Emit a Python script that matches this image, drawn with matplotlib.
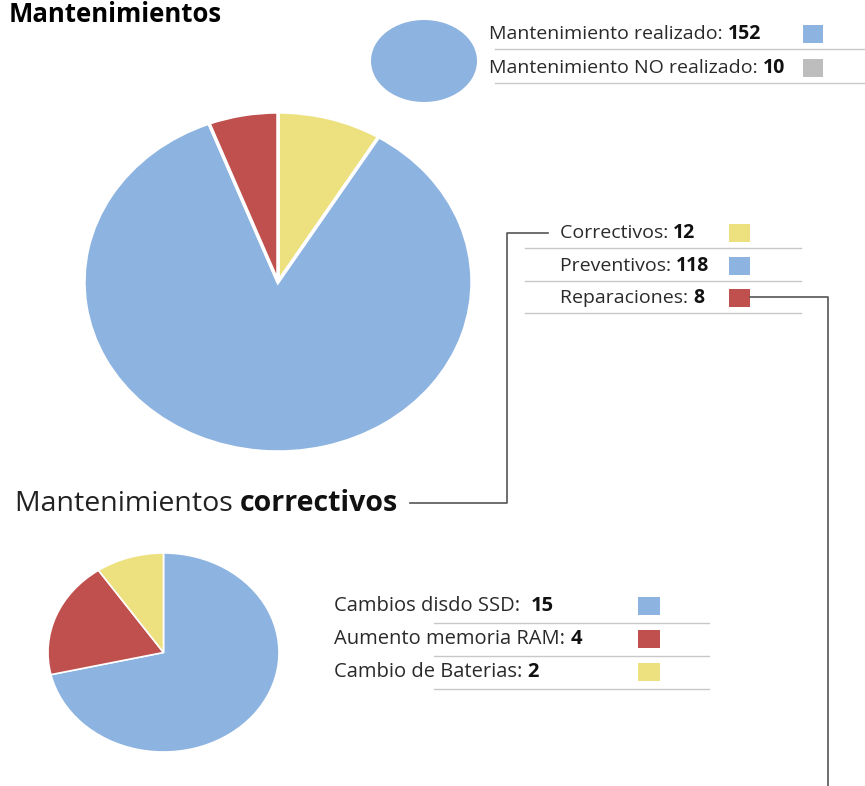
import matplotlib.pyplot as plt

plt.rcParams['font.family'] = ['Open Sans', 'DejaVu Sans']

# Data
estado_labels = ['Mantenimiento realizado: ', 'Mantenimiento NO realizado: ']
estado_values = [152, 10]

tipo_labels = ['Correctivos: ', 'Preventivos: ', 'Reparaciones: ']
tipo_values = [12, 118, 8]

correctivo_labels = ['Cambios disdo SSD:  ', 'Aumento memoria RAM: ', 'Cambio de Baterias: ']
correctivo_values = [15, 4, 2]

BLUE = '#8DB3E0'
RED = '#C0504D'
YELLOW = '#EDE17F'
GREY = '#BDBDBD'

W, H = 865, 786
fig = plt.figure(figsize=(W / 100, H / 100), dpi=100)

# overlay axes in pixel coordinates for text, swatches and connector lines
ov = fig.add_axes([0, 0, 1, 1])
ov.set_xlim(0, W)
ov.set_ylim(H, 0)
ov.axis('off')


def pie_axes(x0, y0, x1, y1):
    return fig.add_axes([x0 / W, 1 - y1 / H, (x1 - x0) / W, (y1 - y0) / H])


# small top circle (only the realizado share is shown)
ax0 = pie_axes(371, 20, 477, 102)
ax0.pie(estado_values[:1], colors=[BLUE], radius=1)

# big pie
ax1 = pie_axes(84, 112, 472, 452)
ax1.pie(tipo_values, colors=[YELLOW, BLUE, RED], startangle=90, counterclock=False,
        radius=1, wedgeprops=dict(edgecolor='white', linewidth=2.5))

# bottom pie
ax2 = pie_axes(48, 553, 279, 752)
ax2.pie(correctivo_values, colors=[BLUE, RED, YELLOW], startangle=90, counterclock=False,
        radius=1, wedgeprops=dict(edgecolor='white', linewidth=1.2))

for a in (ax0, ax1, ax2):
    a.set_aspect('auto')
    a.set_xlim(-1, 1)
    a.set_ylim(-1, 1)
    a.set_zorder(0)
ov.set_zorder(1)
ov.patch.set_alpha(0)


def two_part(x, y, normal, bold, size, color='#2a2a2a'):
    t = ov.text(x, y, normal, fontsize=size, va='baseline', ha='left', color=color)
    ov.annotate(bold, xy=(1, y), xycoords=(t, 'data'), fontsize=size, fontweight='bold',
                va='baseline', ha='left', color='#111111')


# titles
ov.text(9, 22, 'Mantenimientos', fontsize=18.5, fontweight='bold', va='baseline', ha='left')
two_part(15, 511, 'Mantenimientos ', 'correctivos', 20.5, color='#222222')


def legend_rows(labels, values, colors, x_text, ys, x_sq, sq_w, sq_h, line_x0, line_x1, gap,
                size=14):
    for lab, val, col, y in zip(labels, values, colors, ys):
        two_part(x_text, y + 5, lab, f'{val}', size)
        ov.add_patch(plt.Rectangle((x_sq, y - sq_h / 2), sq_w, sq_h, color=col, lw=0))
        ov.plot([line_x0, line_x1], [y + gap, y + gap], color='#c8c8c8', lw=1)


legend_rows(estado_labels, estado_values, [BLUE, GREY], 489, [34, 68],
            803, 20, 18, 495, 865, 15)
legend_rows(tipo_labels, tipo_values, [YELLOW, BLUE, RED], 560, [233, 266, 298],
            729, 21, 18, 525, 801, 15)
legend_rows(correctivo_labels, correctivo_values, [BLUE, RED, YELLOW], 334, [606, 639, 672],
            638, 22, 18, 434, 709, 17, size=14.5)

# connector lines
ov.plot([410, 507, 507, 548], [503, 503, 233, 233], color='#555555', lw=1.2)
ov.plot([750, 828, 828], [297, 297, 786], color='#555555', lw=1.2)

fig.savefig('out.png', dpi=100)
